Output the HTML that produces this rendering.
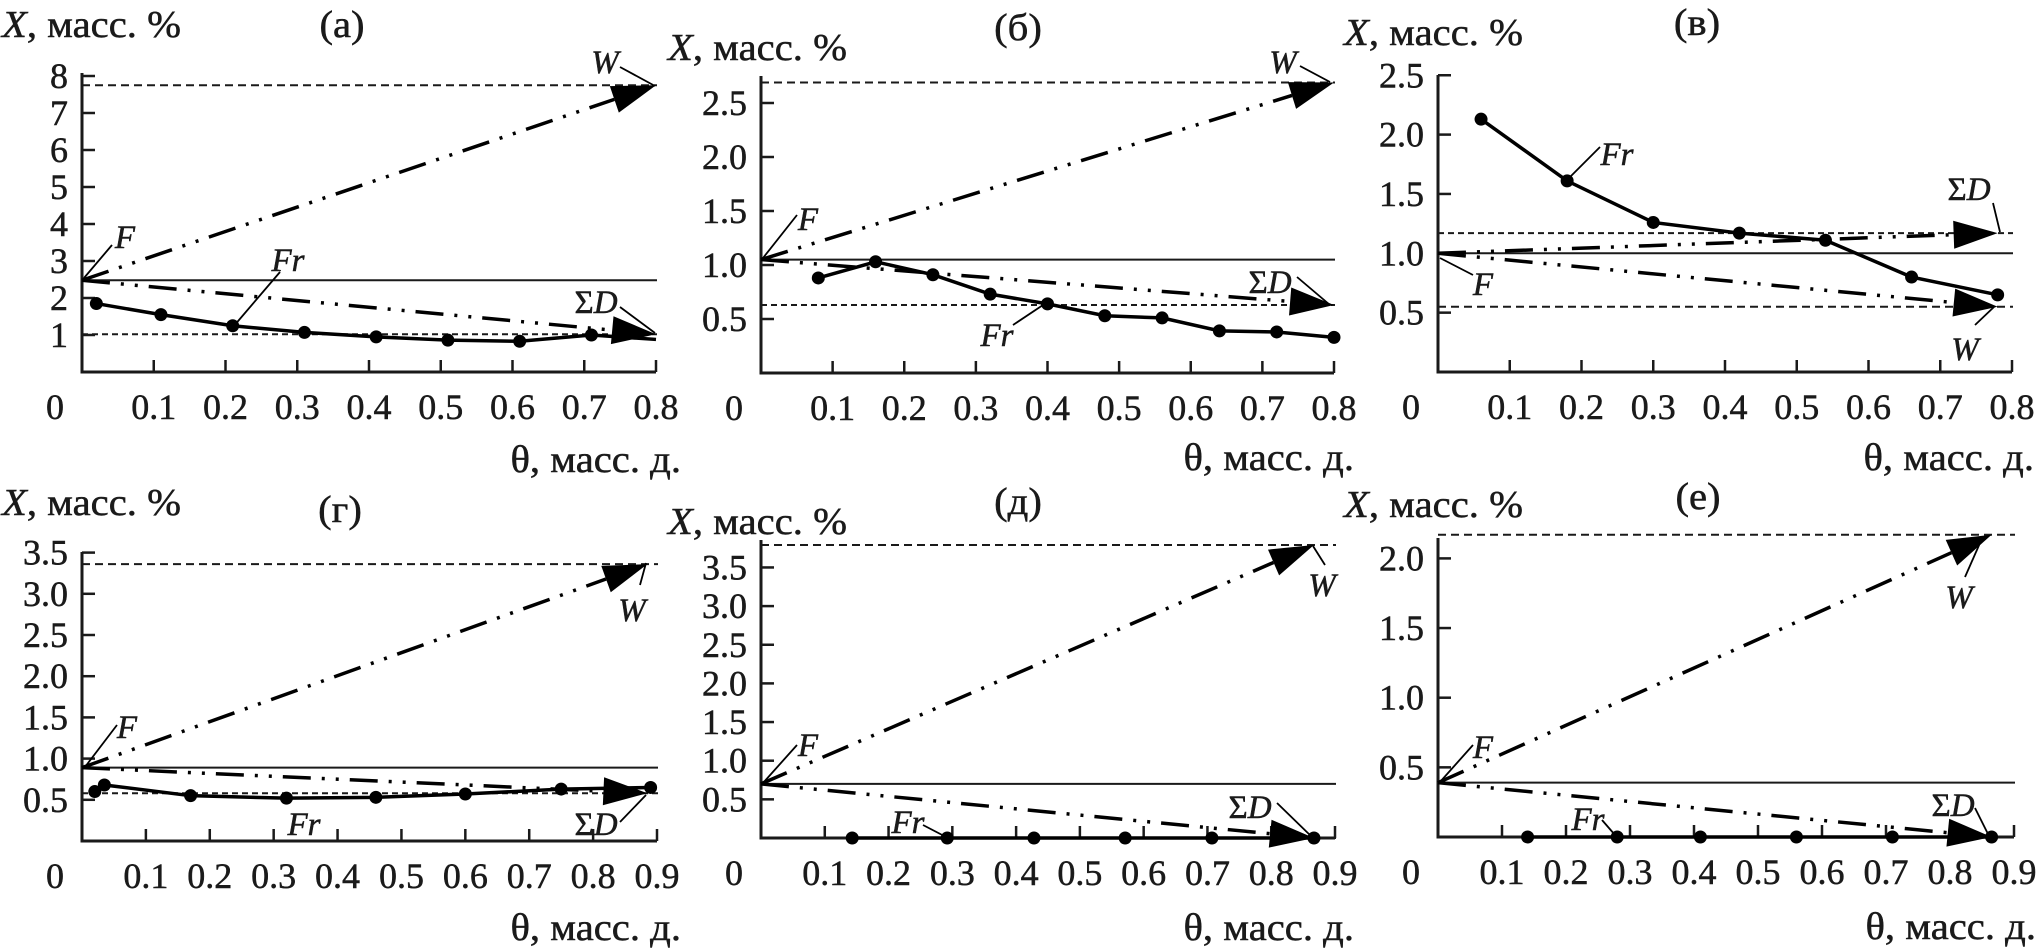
<!DOCTYPE html>
<html><head><meta charset="utf-8">
<style>
html,body{margin:0;padding:0;background:#fff;}
svg{display:block;}
svg text{font-family:"Liberation Serif","Times New Roman","DejaVu Serif",serif;fill:#1a1a1a;stroke:#1a1a1a;stroke-width:0.5;}
</style></head>
<body>
<svg id="fig" width="2039" height="950" viewBox="0 0 2039 950" xmlns="http://www.w3.org/2000/svg" font-family="Liberation Serif, serif"></svg>
<script>
// ---- data ----
const frX_a=[0.02,0.11,0.21,0.31,0.41,0.51,0.61,0.71,0.8];
const frY_a=[1.85,1.55,1.25,1.07,0.95,0.86,0.83,1.0,0.88];
const lev_a=[2.48,7.75,1.02]; // F, W, SumD
const frX_b=[0.08,0.16,0.24,0.32,0.4,0.48,0.56,0.64,0.72,0.8];
const frY_b=[0.88,1.03,0.91,0.73,0.64,0.53,0.51,0.39,0.38,0.33];
const lev_b=[1.05,2.69,0.63];
const frX_c=[0.06,0.18,0.3,0.42,0.54,0.66,0.78];
const frY_c=[2.13,1.61,1.26,1.17,1.11,0.8,0.65];
const lev_c=[1.0,0.55,1.17];
const frX_d=[0.02,0.035,0.17,0.32,0.46,0.6,0.75,0.89];
const frY_d=[0.6,0.68,0.55,0.52,0.53,0.57,0.63,0.65];
const lev_d=[0.89,3.36,0.58];
const frX_e=[0.143,0.292,0.428,0.571,0.707,0.867];
const frY_e=[0,0,0,0,0,0];
const lev_e=[0.7,3.79,0];
const frX_f=[0.14,0.28,0.41,0.56,0.71,0.865];
const frY_f=[0,0,0,0,0,0];
const lev_f=[0.39,2.17,0];
const yTicks_a=[1,2,3,4,5,6,7,8];
const yTicks_b=[0.5,1.0,1.5,2.0,2.5];
const yTicks_c=[0.5,1.0,1.5,2.0,2.5];
const yTicks_d=[0.5,1.0,1.5,2.0,2.5,3.0,3.5];
const yTicks_e=[0.5,1.0,1.5,2.0,2.5,3.0,3.5];
const yTicks_f=[0.5,1.0,1.5,2.0];
const xTicks8=[0.1,0.2,0.3,0.4,0.5,0.6,0.7,0.8];
const xTicks9=[0.1,0.2,0.3,0.4,0.5,0.6,0.7,0.8,0.9];
const titles=["(а)","(б)","(в)","(г)","(д)","(е)"];

// ---- layout ----
const panels=[
 {id:'a',fx:frX_a,fy:frY_a,lev:lev_a,yt:yTicks_a,xt:xTicks8,xmax:0.8,ax:82,ax1:656,y0:372,unit:37,top:73,end:0.8,lastNoDot:true,int:true,
  ylab:[2,25],tit:[342,25],th:[681,460],
  ann:{W:[605,62,620,67,655,86],F:[125,237,112,245,84,278],Fr:[288,260,280,272,233,327],D:[596,302,620,307,655,333]}},
 {id:'b',fx:frX_b,fy:frY_b,lev:lev_b,yt:yTicks_b,xt:xTicks8,xmax:0.8,ax:761,ax1:1334,y0:373,unit:108,top:76,end:0.8,
  ylab:[668,48],tit:[1018,28],th:[1354,458],
  ann:{W:[1283,62,1300,66,1330,82],F:[808,219,797,215,763,258],Fr:[997,335,1013,325,1043,305],D:[1270,282,1297,277,1330,305]}},
 {id:'c',fx:frX_c,fy:frY_c,lev:lev_c,yt:yTicks_c,xt:xTicks8,xmax:0.8,ax:1438,ax1:2012,y0:372,unit:118.7,top:75,end:0.78,
  ylab:[1344,33],tit:[1697,23],th:[2034,458],
  ann:{Fr:[1617,154,1600,147,1567,180],D:[1969,189,1993,203,2000,232],F:[1483,284,1473,275,1440,258],W:[1965,349,1975,325,1995,306]}},
 {id:'d',fx:frX_d,fy:frY_d,lev:lev_d,yt:yTicks_d,xt:xTicks9,xmax:0.9,ax:82,ax1:657,y0:841,unit:82.4,top:552,end:0.885,
  ylab:[2,503],tit:[340,510],th:[681,928],
  ann:{W:[632,610,640,585,646,563],F:[127,727,117,725,85,767],Fr:[304,824],D:[596,824,620,822,646,795]}},
 {id:'e',fx:frX_e,fy:frY_e,lev:lev_e,yt:yTicks_e,xt:xTicks9,xmax:0.9,ax:761,ax1:1335,y0:838,unit:77.3,top:540,end:0.867,
  ylab:[668,522],tit:[1018,502],th:[1354,928],
  ann:{W:[1322,585,1325,565,1313,546],F:[808,745,797,745,763,783],Fr:[908,822,923,825,948,838],D:[1250,807,1277,803,1313,838]}},
 {id:'f',fx:frX_f,fy:frY_f,lev:lev_f,yt:yTicks_f,xt:xTicks9,xmax:0.9,ax:1438,ax1:2014,y0:837,unit:139.3,top:538,end:0.865,
  ylab:[1344,505],tit:[1698,497],th:[2036,927],
  ann:{W:[1959,597,1965,577,1980,543],F:[1483,747,1473,745,1440,782],Fr:[1588,819,1602,820,1615,835],D:[1953,805,1975,808,1990,838]}}
];

const NS='http://www.w3.org/2000/svg';
const svg=document.getElementById('fig');
const FONT='"Liberation Serif", "Times New Roman", serif';
function mk(parent,tag,attrs){const e=document.createElementNS(NS,tag);for(const k in attrs)e.setAttribute(k,attrs[k]);parent.appendChild(e);return e;}
function txt(parent,x,y,anchor,size,st){
  return mk(parent,'text',{x:0,y:0,transform:`translate(${x},${y}) scale(${st},1)`,'text-anchor':anchor,'font-size':size,'font-family':FONT});
}

panels.forEach((p,pi)=>{
  const g=mk(svg,'g',{});
  
  
  const sx=v=>p.ax+(v/p.xmax)*(p.ax1-p.ax);
  const sy=v=>p.y0-v*p.unit;
  const [F,W,D]=p.lev;

  const axes=mk(g,'path',{d:`M${p.ax},${p.top} L${p.ax},${p.y0} L${p.ax1},${p.y0}`,fill:'none',stroke:'#1a1a1a','stroke-width':3});
  
  
  p.yt.forEach(t=>{
    const tk=mk(g,'line',{x1:p.ax,x2:p.ax+13,y1:sy(t),y2:sy(t),stroke:'#1a1a1a','stroke-width':2.5});
    
    
    const tl=txt(g,p.ax-14,sy(t)+12,'end',36,1.0);
    tl.textContent=p.int?String(t):t.toFixed(1);
    
    
  });
  p.xt.forEach(t=>{
    const tk=mk(g,'line',{x1:sx(t),x2:sx(t),y1:p.y0,y2:p.y0-12,stroke:'#1a1a1a','stroke-width':2.5});
    
    
    const tl=txt(g,sx(t),p.y0+47,'middle',36,1.0);
    tl.textContent=t.toFixed(1);
    
    
  });
  const z=txt(g,p.ax-27,p.y0+47,'middle',36,1.0);
  z.textContent='0';
  
  

  const yl=txt(g,p.ylab[0],p.ylab[1]+12,'start',38,1.07);
  yl.innerHTML='<tspan font-style="italic">X</tspan>, масс. %';
  
  
  const tt=txt(g,p.tit[0],p.tit[1]+12,'middle',38,1.07);
  tt.textContent=titles[pi];
  
  
  const xl=txt(g,p.th[0],p.th[1]+12,'end',38,1.07);
  xl.textContent='θ, масс. д.';
  
  

  const fl=mk(g,'line',{x1:p.ax,x2:p.ax1+1,y1:sy(F),y2:sy(F),stroke:'#1a1a1a','stroke-width':2});
  
  
  const wl=mk(g,'line',{x1:p.ax,x2:p.ax1+1,y1:sy(W),y2:sy(W),stroke:'#1a1a1a','stroke-width':2,'stroke-dasharray':'8 5'});
  
  
  const dl=mk(g,'line',{x1:p.ax,x2:p.ax1+1,y1:sy(D),y2:sy(D),stroke:'#1a1a1a','stroke-width':2,'stroke-dasharray':'6 4'});
  
  

  [[W,'w-arrow'],[D,'sumd-arrow']].forEach(([v,nm])=>{
    const x1=sx(0),y1=sy(F),x2=sx(p.end),y2=sy(v);
    const dx=x2-x1,dy=y2-y1,L=Math.hypot(dx,dy),ux=dx/L,uy=dy/L;
    const hl=44,hw=14;
    const bx=x2-ux*hl,by=y2-uy*hl;
    const ln=mk(g,'line',{x1:x1,y1:y1,x2:bx,y2:by,stroke:'#000','stroke-width':3.5,'stroke-dasharray':'28 11 3 11 3 11'});
    
    
    const hd=mk(g,'polygon',{points:`${x2},${y2} ${bx-uy*hw},${by+ux*hw} ${bx+uy*hw},${by-ux*hw}`,fill:'#000'});
    
    
  });

  const pts=p.fx.map((x,i)=>sx(x)+','+sy(p.fy[i])).join(' ');
  const fr=mk(g,'polyline',{points:pts,fill:'none',stroke:'#000','stroke-width':3.5});
  
  
  p.fx.forEach((x,i)=>{
    if(p.lastNoDot&&i===p.fx.length-1)return;
    const c=mk(g,'circle',{cx:sx(x),cy:sy(p.fy[i]),r:6.5,fill:'#000'});
    
    
  });

  const names={W:'W',F:'F',Fr:'Fr',D:'ΣD'};
  for(const k in p.ann){
    const a=p.ann[k];
    const t=txt(g,a[0],a[1]+11,'middle',33,1.0);
    t.innerHTML=k==='D'?'<tspan>Σ</tspan><tspan font-style="italic">D</tspan>':'<tspan font-style="italic">'+names[k]+'</tspan>';
    
    
    if(a.length>2){
      const l=mk(g,'line',{x1:a[2],y1:a[3],x2:a[4],y2:a[5],stroke:'#000','stroke-width':1.8});
      
      
    }
  }
});
</script>
</body></html>
